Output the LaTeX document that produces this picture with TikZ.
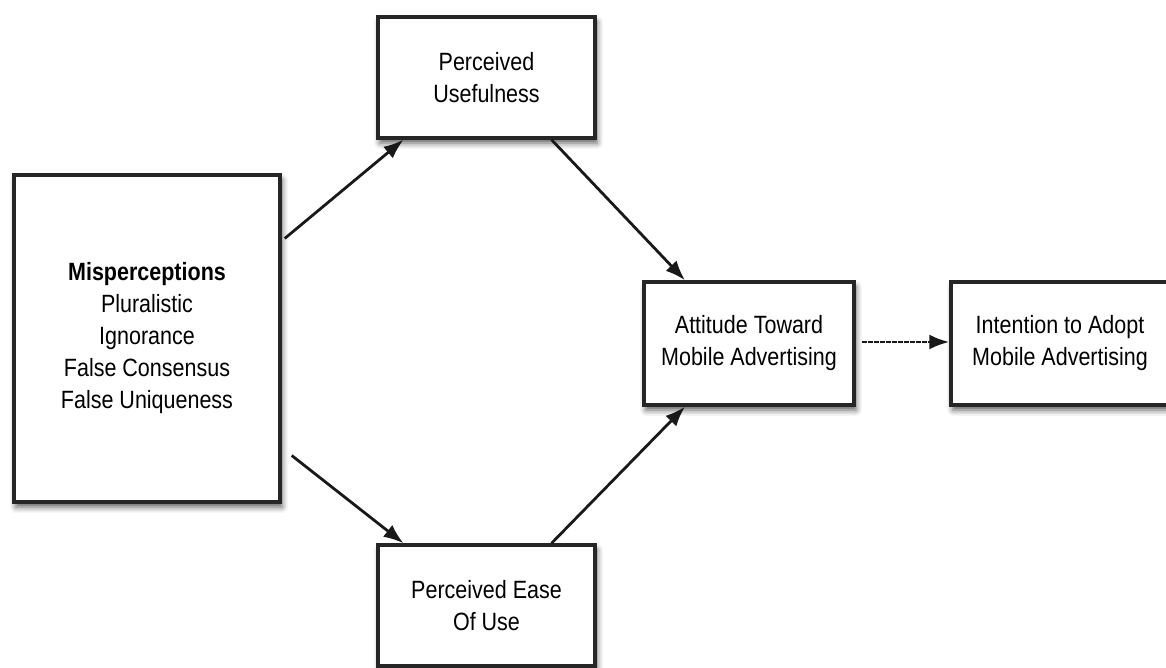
\documentclass[tikz,border=0pt]{standalone}
\usepackage{fontspec}
\setmainfont[FakeStretch=0.86]{Liberation Sans}
\usetikzlibrary{arrows.meta,shadows.blur}
\begin{document}
\begin{tikzpicture}[x=1pt,y=1pt,
  box/.style={draw=black!85, line width=3.4pt, fill=white, align=center, inner sep=0pt,
    font=\fontsize{25}{32}\selectfont,
    blur shadow={shadow xshift=2pt, shadow yshift=-5pt, shadow blur radius=6pt, shadow opacity=65}},
  conn/.style={draw=black!90, line width=2.8pt, -{Latex[length=20pt,width=15pt]}}]
\useasboundingbox (0,0) rectangle (1166,668);
\node[box, minimum width=266pt, minimum height=327pt] (m) at (147,329.5)
  {\textbf{Misperceptions}\\Pluralistic\\Ignorance\\False Consensus\\False Uniqueness};
\node[box, minimum width=217pt, minimum height=121pt] (pu) at (486.5,590.5) {Perceived\\Usefulness};
\node[box, minimum width=217pt, minimum height=121pt] (pe) at (486.5,62.5) {Perceived Ease\\Of Use};
\node[box, minimum width=210pt, minimum height=123pt] (at) at (749,324.5) {Attitude Toward\\Mobile Advertising};
\node[box, minimum width=218pt, minimum height=123pt] (in) at (1060,324.5) {Intention to Adopt\\Mobile Advertising};
\draw[conn] ([xshift=3pt,yshift=100pt]m.east) -- ([xshift=-83pt]pu.south);
\draw[conn] ([xshift=10pt,yshift=-117pt]m.east) -- ([xshift=-83pt]pe.north);
\draw[conn] ([xshift=65pt]pu.south) -- ([xshift=-64pt]at.north);
\draw[conn] ([xshift=65pt]pe.north) -- ([xshift=-64pt]at.south);
\draw[conn, dash pattern=on 5pt off 1pt] ([xshift=6pt,yshift=1.5pt]at.east) -- ([yshift=1.5pt]in.west);
\end{tikzpicture}
\end{document}
